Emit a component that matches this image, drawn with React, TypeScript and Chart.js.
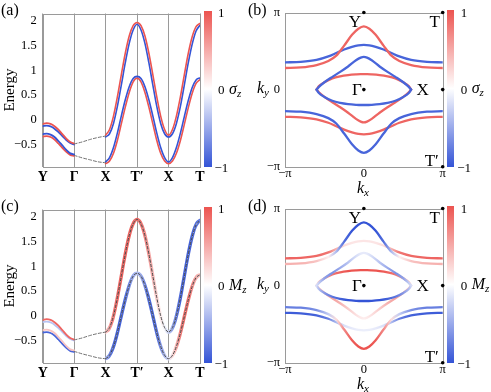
import React, { useEffect, useRef } from "react";
import { Chart, registerables } from "chart.js";
Chart.register(...registerables);

const FONT = '"Liberation Serif", "DejaVu Serif", "Times New Roman", serif';

// ---------- band structure (panels a, c) ----------
const pathTicks = [0, 1, 2, 3, 4, 5];
const pathLabels = ["Y", "Γ", "X", "T′", "X", "T"];
const energyTicks = [-0.5, 0, 0.5, 1, 1.5, 2];
const energyLabels = ["−0.5", "0", "0.5", "1", "1.5", "2"];

const xLeft = [0, 0.125, 0.25, 0.375, 0.5, 0.625, 0.75, 0.875, 1];
const leftCurve1 = [-0.085, -0.07, -0.085, -0.13, -0.2, -0.29, -0.38, -0.45, -0.48];
const leftCurve2 = [-0.13, -0.12, -0.135, -0.18, -0.25, -0.33, -0.41, -0.47, -0.5];
const leftCurve3 = [-0.29, -0.28, -0.3, -0.35, -0.43, -0.52, -0.61, -0.68, -0.7];
const leftCurve4 = [-0.34, -0.33, -0.35, -0.4, -0.48, -0.57, -0.65, -0.71, -0.73];
const leftSigma = [1, -1, -1, 1];
const leftMz = [0.9, -0.35, 0.35, -0.9];

const xGX = [1, 1.25, 1.5, 1.75, 2];
const gxUpper = [-0.49, -0.45, -0.4, -0.36, -0.33];
const gxLower = [-0.72, -0.77, -0.81, -0.85, -0.87];

const xRight = [2, 2.125, 2.25, 2.375, 2.5, 2.625, 2.75, 2.875, 3, 3.125, 3.25, 3.375, 3.5, 3.625, 3.75, 3.875, 4, 4.125, 4.25, 4.375, 4.5, 4.625, 4.75, 4.875, 5];
const upperCenter = [-0.33, -0.24, 0.0, 0.37, 0.81, 1.25, 1.62, 1.86, 1.95, 1.86, 1.62, 1.25, 0.81, 0.37, 0.0, -0.24, -0.33, -0.24, 0.0, 0.36, 0.8, 1.24, 1.6, 1.84, 1.93];
const upperRed = [-0.312, -0.197, 0.074, 0.466, 0.914, 1.346, 1.694, 1.903, 1.968, 1.903, 1.694, 1.346, 0.914, 0.466, 0.074, -0.197, -0.312, -0.197, 0.074, 0.456, 0.904, 1.336, 1.674, 1.883, 1.948];
const upperBlue = [-0.348, -0.283, -0.074, 0.274, 0.706, 1.154, 1.546, 1.817, 1.932, 1.817, 1.546, 1.154, 0.706, 0.274, -0.074, -0.283, -0.348, -0.283, -0.074, 0.264, 0.696, 1.144, 1.526, 1.797, 1.912];
const lowerCenter = [-0.87, -0.8, -0.62, -0.34, 0.0, 0.33, 0.61, 0.8, 0.86, 0.8, 0.61, 0.33, 0.0, -0.34, -0.62, -0.8, -0.87, -0.8, -0.62, -0.35, -0.02, 0.31, 0.59, 0.77, 0.83];
const lowerBlue = [-0.852, -0.765, -0.562, -0.266, 0.079, 0.404, 0.668, 0.835, 0.878, 0.835, 0.668, 0.404, 0.079, -0.266, -0.562, -0.765, -0.852, -0.765, -0.562, -0.276, 0.059, 0.384, 0.648, 0.805, 0.848];
const lowerRed = [-0.888, -0.835, -0.678, -0.414, -0.079, 0.256, 0.552, 0.765, 0.842, 0.765, 0.552, 0.256, -0.079, -0.414, -0.678, -0.835, -0.888, -0.835, -0.678, -0.424, -0.099, 0.236, 0.532, 0.735, 0.812];
const upperMz = [0.35, 0.6, 0.8, 0.9, 0.92, 0.92, 0.92, 0.9, 0.88, 0.85, 0.72, 0.58, 0.42, 0.28, 0.12, -0.05, -0.25, -0.55, -0.8, -0.9, -0.92, -0.92, -0.9, -0.85, -0.8];
const lowerMz = [-0.45, -0.75, -0.9, -0.92, -0.9, -0.85, -0.7, -0.5, -0.35, -0.5, -0.72, -0.88, -0.92, -0.85, -0.65, -0.4, -0.15, 0.2, 0.5, 0.75, 0.88, 0.85, 0.7, 0.5, 0.35];

// ---------- Fermi contours (panels b, d), k in units of pi ----------
const kTicks = [-1, 0, 1];
const kLabels = ["−π", "0", "π"];
const kxOuter = [-1, -0.8, -0.6, -0.45, -0.35, -0.25, -0.15, -0.07, 0, 0.07, 0.15, 0.25, 0.35, 0.45, 0.6, 0.8, 1];
const topA = [0.28, 0.287, 0.318, 0.37, 0.44, 0.57, 0.71, 0.79, 0.82, 0.79, 0.71, 0.57, 0.44, 0.37, 0.318, 0.287, 0.28];
const topB = [0.353, 0.36, 0.385, 0.43, 0.475, 0.52, 0.555, 0.575, 0.58, 0.575, 0.555, 0.52, 0.475, 0.43, 0.385, 0.36, 0.353];
const botA = [-0.28, -0.287, -0.318, -0.37, -0.44, -0.57, -0.71, -0.79, -0.82, -0.79, -0.71, -0.57, -0.44, -0.37, -0.318, -0.287, -0.28];
const botB = [-0.353, -0.36, -0.385, -0.43, -0.475, -0.52, -0.555, -0.575, -0.58, -0.575, -0.555, -0.52, -0.475, -0.43, -0.385, -0.36, -0.353];
const kxLens = [-0.6, -0.57, -0.5, -0.4, -0.3, -0.2, -0.1, -0.04, 0, 0.04, 0.1, 0.2, 0.3, 0.4, 0.5, 0.57, 0.6];
const lensCuspUp = [0, 0.035, 0.095, 0.165, 0.23, 0.3, 0.38, 0.415, 0.425, 0.415, 0.38, 0.3, 0.23, 0.165, 0.095, 0.035, 0];
const lensFlatDown = [0, -0.045, -0.095, -0.145, -0.172, -0.188, -0.197, -0.2, -0.2, -0.2, -0.197, -0.188, -0.172, -0.145, -0.095, -0.045, 0];
const lensFlatUp = [0, 0.045, 0.095, 0.145, 0.172, 0.188, 0.197, 0.2, 0.2, 0.2, 0.197, 0.188, 0.172, 0.145, 0.095, 0.045, 0];
const lensCuspDown = [0, -0.035, -0.095, -0.165, -0.23, -0.3, -0.38, -0.415, -0.425, -0.415, -0.38, -0.3, -0.23, -0.165, -0.095, -0.035, 0];
const topASigma = 1, topBSigma = -1, botASigma = -1, botBSigma = 1;
const cuspUpSigma = -1, flatDownSigma = -1, flatUpSigma = 1, cuspDownSigma = 1;
const topAMz = [0.45, 0.45, 0.35, 0.1, -0.4, -0.85, -1, -1, -1, -1, -1, -0.85, -0.4, 0.1, 0.35, 0.45, 0.45];
const topBMz = [0.9, 0.9, 0.88, 0.8, 0.45, 0.2, 0.15, 0.15, 0.15, 0.15, 0.15, 0.2, 0.45, 0.8, 0.88, 0.9, 0.9];
const botAMz = [-0.75, -0.75, -0.65, -0.3, 0.2, 0.7, 0.95, 1, 1, 1, 0.95, 0.7, 0.2, -0.3, -0.65, -0.75, -0.75];
const botBMz = [-0.95, -0.95, -0.92, -0.75, -0.4, -0.18, -0.12, -0.1, -0.1, -0.1, -0.12, -0.18, -0.4, -0.75, -0.92, -0.95, -0.95];
const cuspUpMz = [-0.2, -0.3, -0.55, -0.65, -0.5, -0.35, -0.2, -0.13, -0.12, -0.13, -0.2, -0.35, -0.5, -0.65, -0.55, -0.3, -0.2];
const flatDownMz = [-0.25, -0.4, -0.6, -0.8, -0.92, -1, -1, -1, -1, -1, -1, -1, -0.92, -0.8, -0.6, -0.4, -0.25];
const flatUpMz = [0.25, 0.4, 0.6, 0.8, 0.92, 1, 1, 1, 1, 1, 1, 1, 0.92, 0.8, 0.6, 0.4, 0.25];
const cuspDownMz = [0.2, 0.3, 0.5, 0.55, 0.45, 0.3, 0.18, 0.12, 0.1, 0.12, 0.18, 0.3, 0.45, 0.55, 0.5, 0.3, 0.2];

const hsNames = ["Y", "T", "Γ", "X", "T′"];
const hsKx = [0, 1, 0, 1, 1];
const hsKy = [1, 1, 0, 0, -1];
const HS_OFFSETS = [[-9, 10], [-8, 10], [-7, 1], [-20, 1], [-11, -5]];

// ---------- colour map ----------
const RED_END = [236, 84, 80];
const BLUE_END = [52, 84, 214];
function cmap(c: number): string {
  const t = Math.max(-1, Math.min(1, c));
  const end = t >= 0 ? RED_END : BLUE_END;
  const a = Math.abs(t);
  const ch = end.map((v) => Math.round(255 + (v - 255) * a));
  return `rgb(${ch[0]},${ch[1]},${ch[2]})`;
}

function pts(xs: number[], ys: number[]) {
  return xs.map((x, i) => ({ x, y: ys[i] }));
}

function gradientAlong(xs: number[], cs: number[]) {
  return (ctx: any) => {
    const chart = ctx.chart;
    const { chartArea, scales } = chart;
    if (!chartArea || !scales || !scales.x) return cmap(cs[0]);
    const sx = scales.x;
    const x0 = sx.getPixelForValue(xs[0]);
    const x1 = sx.getPixelForValue(xs[xs.length - 1]);
    if (!isFinite(x0) || !isFinite(x1) || x1 === x0) return cmap(cs[0]);
    const g = chart.ctx.createLinearGradient(x0, 0, x1, 0);
    xs.forEach((x, i) => {
      const f = (sx.getPixelForValue(x) - x0) / (x1 - x0);
      g.addColorStop(Math.min(1, Math.max(0, f)), cmap(cs[i]));
    });
    return g;
  };
}

function curve(xs: number[], ys: number[], color: any, width: number, extra: any = {}) {
  return {
    data: pts(xs, ys),
    borderColor: color,
    borderWidth: width,
    pointRadius: 0,
    pointHoverRadius: 0,
    cubicInterpolationMode: "monotone",
    fill: false,
    borderCapStyle: "round",
    ...extra,
  };
}

const framePlugin = {
  id: "frame",
  beforeDatasetsDraw(chart: any) {
    const { ctx, chartArea: a } = chart;
    ctx.save();
    ctx.strokeStyle = "#9a9a9a";
    ctx.lineWidth = 1;
    ctx.strokeRect(Math.round(a.left) + 0.5, Math.round(a.top) + 0.5, Math.round(a.right - a.left), Math.round(a.bottom - a.top));
    ctx.restore();
  },
};

const hsPlugin = {
  id: "hsLabels",
  afterDatasetsDraw(chart: any) {
    const { ctx, scales } = chart;
    ctx.save();
    ctx.font = `17px ${FONT}`;
    ctx.fillStyle = "#000";
    ctx.textAlign = "center";
    ctx.textBaseline = "middle";
    hsNames.forEach((n, i) => {
      ctx.fillText(n, scales.x.getPixelForValue(hsKx[i]) + HS_OFFSETS[i][0], scales.y.getPixelForValue(hsKy[i]) + HS_OFFSETS[i][1]);
    });
    ctx.restore();
  },
};

function bandConfig(mode: "spin" | "mag") {
  const datasets: any[] = [];
  if (mode === "mag") {
    datasets.push(curve(xRight, upperCenter, "#454545", 1, { borderDash: [2.5, 2] }));
    datasets.push(curve(xRight, lowerCenter, "#454545", 1, { borderDash: [2.5, 2] }));
  }
  datasets.push(curve(xGX, gxUpper, "#707070", 1, { borderDash: [3, 2] }));
  datasets.push(curve(xGX, gxLower, "#707070", 1, { borderDash: [3, 2] }));
  [leftCurve1, leftCurve2, leftCurve3, leftCurve4].forEach((c, i) => {
    datasets.push(curve(xLeft, c, cmap(mode === "spin" ? leftSigma[i] : leftMz[i]), 1.8));
  });
  const w = 1.6;
  if (mode === "spin") {
    datasets.push(curve(xRight, upperRed, cmap(1), w));
    datasets.push(curve(xRight, upperBlue, cmap(-1), w));
    datasets.push(curve(xRight, lowerBlue, cmap(-1), w));
    datasets.push(curve(xRight, lowerRed, cmap(1), w));
  } else {
    datasets.push(curve(xRight, upperRed, gradientAlong(xRight, upperMz), w));
    datasets.push(curve(xRight, upperBlue, gradientAlong(xRight, upperMz), w));
    datasets.push(curve(xRight, lowerBlue, gradientAlong(xRight, lowerMz), w));
    datasets.push(curve(xRight, lowerRed, gradientAlong(xRight, lowerMz), w));
  }
  return {
    type: "line",
    data: { datasets },
    plugins: [framePlugin],
    options: {
      animation: false,
      responsive: false,
      events: [],
      layout: { padding: { left: 0, top: 10.5, right: 45, bottom: 0 } },
      plugins: { legend: { display: false }, tooltip: { enabled: false } },
      scales: {
        x: {
          type: "linear",
          min: 0,
          max: 5,
          afterBuildTicks: (s: any) => { s.ticks = pathTicks.map((v) => ({ value: v })); },
          afterFit: (s: any) => { s.height = 29.3; },
          grid: { display: true, color: "#9a9a9a", lineWidth: 1, drawTicks: false },
          border: { display: false },
          ticks: {
            callback: (_v: any, i: number) => pathLabels[i],
            font: { family: FONT, size: 14, weight: "bold" },
            color: "#000",
            padding: 2,
            maxRotation: 0,
            autoSkip: false,
          },
        },
        y: {
          type: "linear",
          min: -0.95,
          max: 2.15,
          afterBuildTicks: (s: any) => { s.ticks = energyTicks.map((v) => ({ value: v })); },
          afterFit: (s: any) => { s.width = 42.7; },
          grid: { display: false, drawTicks: false },
          border: { display: false },
          ticks: {
            callback: (_v: any, i: number) => energyLabels[i],
            font: { family: FONT, size: 12.5 },
            color: "#000",
            padding: 6,
          },
          title: { display: true, text: "Energy", font: { family: FONT, size: 15 }, color: "#000", padding: 1 },
        },
      },
    },
  };
}

function fermiConfig(mode: "spin" | "mag") {
  const lines: [number[], number[], number, number[]][] = [
    [kxOuter, topA, topASigma, topAMz],
    [kxOuter, topB, topBSigma, topBMz],
    [kxLens, lensCuspUp, cuspUpSigma, cuspUpMz],
    [kxLens, lensFlatDown, flatDownSigma, flatDownMz],
    [kxLens, lensFlatUp, flatUpSigma, flatUpMz],
    [kxLens, lensCuspDown, cuspDownSigma, cuspDownMz],
    [kxOuter, botA, botASigma, botAMz],
    [kxOuter, botB, botBSigma, botBMz],
  ];
  const datasets: any[] = [
    {
      data: pts(hsKx, hsKy),
      showLine: false,
      pointRadius: 1.8,
      pointHoverRadius: 0,
      pointBackgroundColor: "#000",
      pointBorderWidth: 0,
      borderWidth: 0,
      clip: false,
    },
  ];
  lines.forEach(([xs, ys, s, mz]) => {
    datasets.push(curve(xs, ys, mode === "spin" ? cmap(s * 0.9) : gradientAlong(xs, mz), 2.3));
  });
  return {
    type: "line",
    data: { datasets },
    plugins: [framePlugin, hsPlugin],
    options: {
      animation: false,
      responsive: false,
      events: [],
      layout: { padding: { left: 0, top: 10, right: 48.3, bottom: 0 } },
      plugins: { legend: { display: false }, tooltip: { enabled: false } },
      scales: {
        x: {
          type: "linear",
          min: -1,
          max: 1,
          afterBuildTicks: (s: any) => { s.ticks = kTicks.map((v) => ({ value: v })); },
          afterFit: (s: any) => { s.height = 29.3; },
          grid: { display: false, drawTicks: false },
          border: { display: false },
          ticks: {
            callback: (_v: any, i: number) => kLabels[i],
            font: { family: FONT, size: 12.5 },
            color: "#000",
            padding: 0,
            maxRotation: 0,
            autoSkip: false,
          },
        },
        y: {
          type: "linear",
          min: -1,
          max: 1,
          afterBuildTicks: (s: any) => { s.ticks = kTicks.map((v) => ({ value: v })); },
          afterFit: (s: any) => { s.width = 40; },
          grid: { display: false, drawTicks: false },
          border: { display: false },
          ticks: {
            callback: (_v: any, i: number) => kLabels[i],
            font: { family: FONT, size: 12.5 },
            color: "#000",
            padding: 5,
          },
        },
      },
    },
  };
}

function ChartCanvas(props: { left: number; top: number; width: number; height: number; build: () => any }) {
  const ref = useRef<HTMLCanvasElement>(null);
  useEffect(() => {
    const chart = new Chart(ref.current as HTMLCanvasElement, props.build());
    chart.update();
    return () => chart.destroy();
  }, []);
  return (
    <canvas
      ref={ref}
      width={props.width}
      height={props.height}
      style={{ position: "absolute", left: props.left, top: props.top, width: props.width, height: props.height }}
    />
  );
}

function Txt(props: { x: number; y: number; size?: number; italic?: boolean; center?: boolean; children: any }) {
  return (
    <div
      style={{
        position: "absolute",
        left: props.x,
        top: props.y,
        transform: `translate(${props.center ? "-50%" : "0"}, -50%)`,
        fontFamily: FONT,
        fontSize: props.size || 13,
        fontStyle: props.italic ? "italic" : "normal",
        lineHeight: 1,
        whiteSpace: "nowrap",
        color: "#000",
      }}
    >
      {props.children}
    </div>
  );
}

function ColorBar(props: { x: number; y: number; h: number; sym: string }) {
  const { x, y, h, sym } = props;
  return (
    <>
      <div
        style={{
          position: "absolute",
          left: x,
          top: y,
          width: 7.7,
          height: h,
          background: `linear-gradient(to bottom, ${cmap(1)}, ${cmap(0)}, ${cmap(-1)})`,
        }}
      />
      <Txt x={x + 14} y={y + 1.5} size={13}>1</Txt>
      <Txt x={x + 14} y={y + h / 2 + 0.5} size={13}>0</Txt>
      <Txt x={x + 25} y={y + h / 2} size={16} italic>
        {sym === "s" ? "σ" : "M"}
        <span style={{ fontSize: 11, position: "relative", top: 3 }}>z</span>
      </Txt>
      <Txt x={x + 10.5} y={y + h} size={13}>−1</Txt>
    </>
  );
}

function KLabel(props: { x: number; y: number; sub: string; center?: boolean }) {
  return (
    <Txt x={props.x} y={props.y} size={16} italic center={props.center}>
      k<span style={{ fontSize: 11, position: "relative", top: 3 }}>{props.sub}</span>
    </Txt>
  );
}

export default function App() {
  return (
    <div style={{ position: "fixed", left: 0, top: 0, width: 491, height: 392, background: "#fff", overflow: "hidden" }}>
      <ChartCanvas left={0} top={0} width={245} height={196} build={() => bandConfig("spin")} />
      <ChartCanvas left={245} top={0} width={246} height={196} build={() => fermiConfig("spin")} />
      <ChartCanvas left={0} top={196} width={245} height={196} build={() => bandConfig("mag")} />
      <ChartCanvas left={245} top={196} width={246} height={196} build={() => fermiConfig("mag")} />

      <Txt x={1} y={10} size={16}>(a)</Txt>
      <Txt x={248} y={10} size={16}>(b)</Txt>
      <Txt x={1} y={206} size={16}>(c)</Txt>
      <Txt x={248} y={206} size={16}>(d)</Txt>

      <ColorBar x={204} y={10.5} h={156.2} sym="s" />
      <ColorBar x={446.7} y={10} h={156.7} sym="s" />
      <ColorBar x={204} y={206.5} h={156.2} sym="m" />
      <ColorBar x={446.7} y={206} h={156.7} sym="m" />

      <KLabel x={257} y={88} sub="y" />
      <KLabel x={363} y={188} sub="x" center />
      <KLabel x={257} y={284} sub="y" />
      <KLabel x={363} y={384} sub="x" center />
    </div>
  );
}
